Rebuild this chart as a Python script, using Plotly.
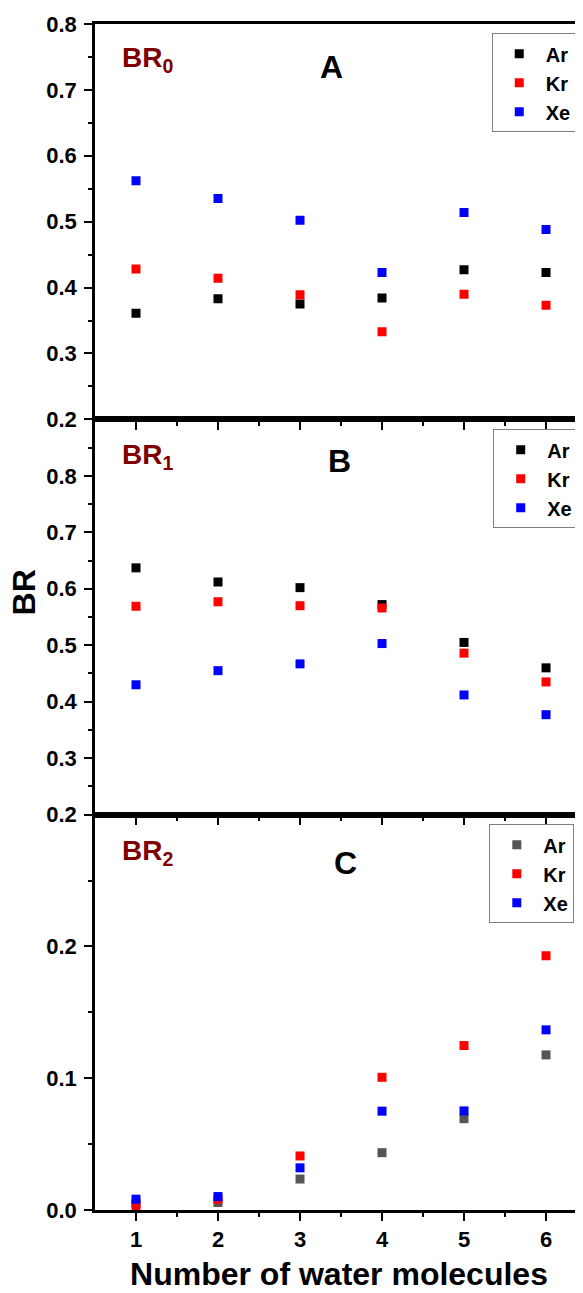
import plotly.graph_objects as go

# ---------------- data ----------------
n_water = [1, 2, 3, 4, 5, 6]
x_ticks = [1, 2, 3, 4, 5, 6]

A_Ar = [0.361, 0.383, 0.375, 0.384, 0.427, 0.423]
A_Kr = [0.428, 0.414, 0.389, 0.333, 0.390, 0.373]
A_Xe = [0.562, 0.535, 0.502, 0.423, 0.514, 0.488]

B_Ar = [0.637, 0.612, 0.602, 0.572, 0.505, 0.460]
B_Kr = [0.569, 0.577, 0.570, 0.566, 0.486, 0.435]
B_Xe = [0.430, 0.455, 0.467, 0.503, 0.412, 0.377]

C_Ar = [0.005, 0.0057, 0.0235, 0.0435, 0.0693, 0.1177]
C_Kr = [0.0034, 0.0083, 0.041, 0.1007, 0.1248, 0.193]
C_Xe = [0.0082, 0.0102, 0.032, 0.075, 0.0752, 0.1367]

A_ticks = [0.2, 0.3, 0.4, 0.5, 0.6, 0.7, 0.8]
A_ticktext = ["0.2", "0.3", "0.4", "0.5", "0.6", "0.7", "0.8"]
B_ticks = [0.2, 0.3, 0.4, 0.5, 0.6, 0.7, 0.8, 0.9]
B_ticktext = ["0.2", "0.3", "0.4", "0.5", "0.6", "0.7", "0.8", " "]
C_ticks = [0.0, 0.1, 0.2, 0.3]
C_ticktext = ["0.0", "0.1", "0.2", " "]

FONT = "Liberation Sans, Arial, sans-serif"
BLACK, RED, BLUE, GRAY = "#000000", "#ff0000", "#0000ff", "#555555"
MSIZE = 9

fig = go.Figure()

def add(y, name, color, xa, ya, leg):
    fig.add_trace(go.Scatter(
        x=n_water, y=y, name=name, mode="markers",
        marker=dict(symbol="square", size=MSIZE, color=color, line=dict(width=0)),
        xaxis=xa, yaxis=ya, legend=leg, showlegend=True))

add(A_Ar, "Ar", BLACK, "x", "y", "legend")
add(A_Kr, "Kr", RED, "x", "y", "legend")
add(A_Xe, "Xe", BLUE, "x", "y", "legend")
add(B_Ar, "Ar", BLACK, "x2", "y2", "legend2")
add(B_Kr, "Kr", RED, "x2", "y2", "legend2")
add(B_Xe, "Xe", BLUE, "x2", "y2", "legend2")
add(C_Ar, "Ar", GRAY, "x3", "y3", "legend3")
add(C_Kr, "Kr", RED, "x3", "y3", "legend3")
add(C_Xe, "Xe", BLUE, "x3", "y3", "legend3")

tickfont = dict(family=FONT, size=22, color="black", weight="bold")

def xaxis(anchor, show_labels):
    return dict(
        domain=[0, 1], anchor=anchor, range=[0.5, 6.451],
        tickmode="array", tickvals=x_ticks, ticktext=[str(v) for v in x_ticks],
        showticklabels=show_labels, ticks="outside", ticklen=8, tickwidth=2,
        tickcolor="black", tickfont=tickfont, ticklabelstandoff=0,
        minor=dict(ticks="outside", ticklen=4, tickwidth=2, tickcolor="black",
                   tickvals=[1.5, 2.5, 3.5, 4.5, 5.5]),
        showline=True, linewidth=2.5, linecolor="black", mirror=True,
        showgrid=False, zeroline=False)

def yaxis(anchor, dom, rng, tv, tt, minor_vals):
    return dict(
        domain=dom, anchor=anchor, range=rng,
        tickmode="array", tickvals=tv, ticktext=tt,
        ticks="outside", ticklen=8, tickwidth=2, tickcolor="black",
        tickfont=tickfont, ticklabelstandoff=3,
        minor=dict(ticks="outside", ticklen=4, tickwidth=2, tickcolor="black",
                   tickvals=minor_vals),
        showline=True, linewidth=2.5, linecolor="black", mirror=False,
        showgrid=False, zeroline=False)

legfont = dict(family=FONT, size=20, color="black", weight="bold")

def legend(x, y):
    return dict(x=x, y=y, xanchor="left", yanchor="top", bgcolor="white",
                bordercolor="#808080", borderwidth=1, font=legfont, itemwidth=43)

fig.update_layout(
    width=575, height=1285,
    margin=dict(l=87, r=0, t=16, b=83),
    paper_bgcolor="white", plot_bgcolor="white",
    font=dict(family=FONT, color="black"),
    xaxis=xaxis("y", False),
    xaxis2=xaxis("y2", False),
    xaxis3={**xaxis("y3", True),
            "title": dict(text="Number of water molecules",
                          font=dict(family=FONT, size=32, color="black", weight="bold"),
                          standoff=12)},
    yaxis=yaxis("x", [2/3, 1], [0.2, 0.8], A_ticks, A_ticktext,
                [0.25, 0.35, 0.45, 0.55, 0.65, 0.75]),
    yaxis2=yaxis("x2", [1/3, 2/3], [0.2, 0.9], B_ticks, B_ticktext,
                 [0.25, 0.35, 0.45, 0.55, 0.65, 0.75, 0.85]),
    yaxis3=yaxis("x3", [0, 1/3], [0.0, 0.3], C_ticks, C_ticktext,
                 [0.05, 0.15, 0.25]),
    legend=legend(0.813, 0.9922),
    legend2=legend(0.816, 0.6583),
    legend3=legend(0.808, 0.3252),
)

letter_font = dict(family=FONT, size=32, color="black", weight="bold")
br_font = dict(family=FONT, size=28, color="#800000", weight="bold")

annotations = [
    dict(text="A", x=3.378, y=0.735, xref="x", yref="y", showarrow=False, font=letter_font),
    dict(text="B", x=3.476, y=0.827, xref="x2", yref="y2", showarrow=False, font=letter_font),
    dict(text="C", x=3.56, y=0.2635, xref="x3", yref="y3", showarrow=False, font=letter_font),
    dict(text="BR<sub>0</sub>", x=0.805, y=0.746, xref="x", yref="y", xanchor="left",
         yanchor="middle", showarrow=False, font=br_font),
    dict(text="BR<sub>1</sub>", x=0.805, y=0.834, xref="x2", yref="y2", xanchor="left",
         yanchor="middle", showarrow=False, font=br_font),
    dict(text="BR<sub>2</sub>", x=0.805, y=0.2714, xref="x3", yref="y3", xanchor="left",
         yanchor="middle", showarrow=False, font=br_font),
    dict(text="BR", x=-0.1455, y=0.5207, xref="paper", yref="paper", textangle=-90,
         xanchor="center", yanchor="middle",
         showarrow=False, font=dict(family=FONT, size=32, color="black", weight="bold")),
]
fig.update_layout(annotations=annotations)

fig.write_html("out.html")
